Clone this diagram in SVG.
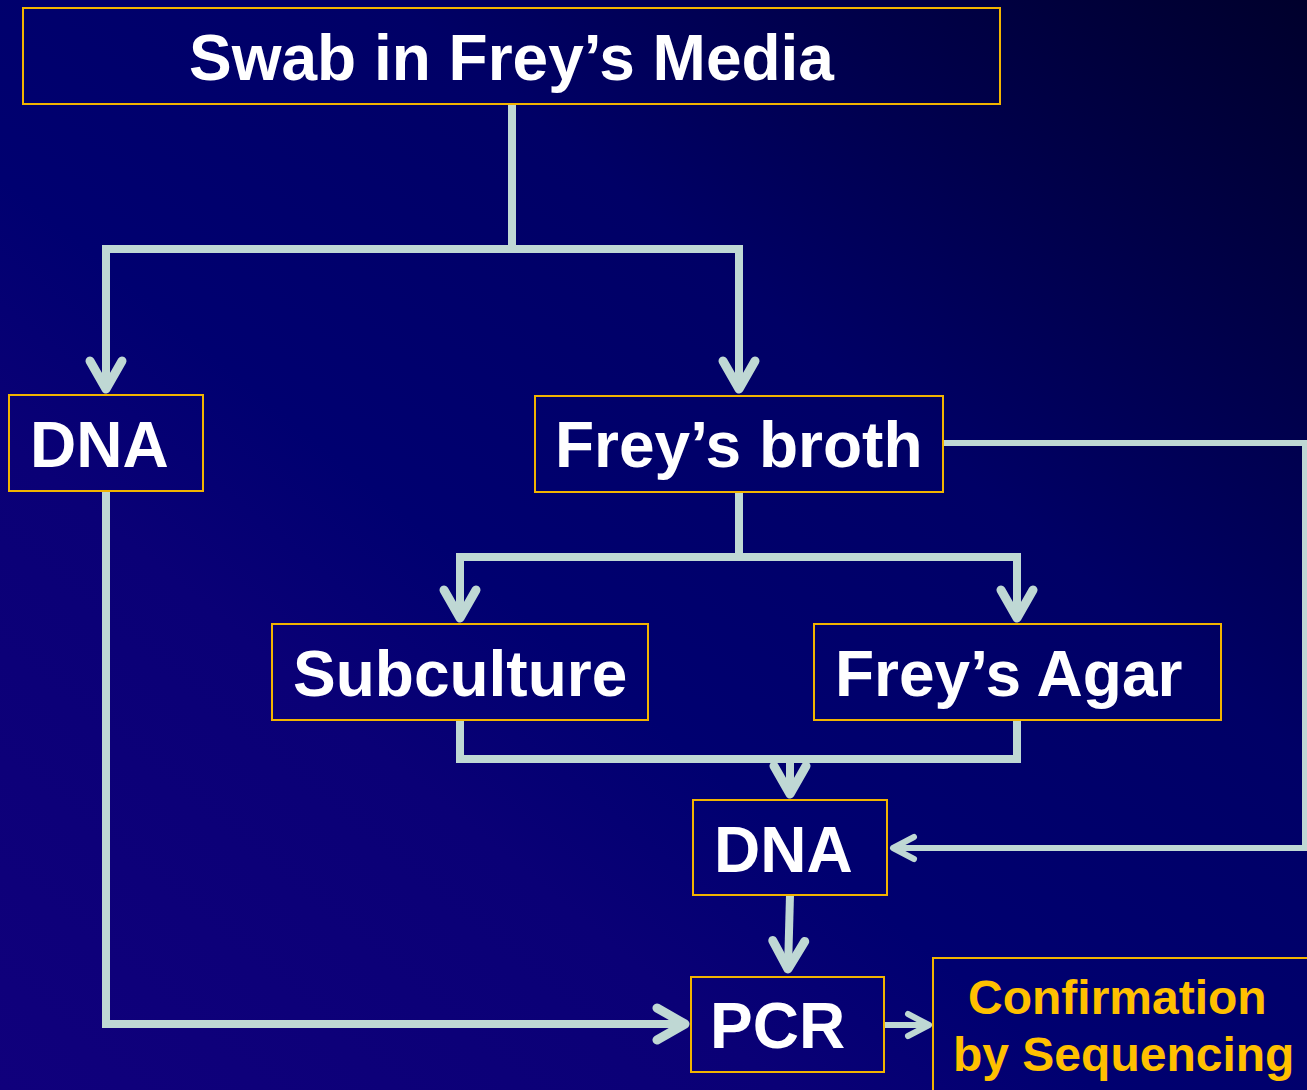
<svg xmlns="http://www.w3.org/2000/svg" width="1307" height="1090" viewBox="0 0 1307 1090">
<defs>
<linearGradient id="bg" x1="0" y1="1" x2="1" y2="0">
<stop offset="0" stop-color="#10007c"/>
<stop offset="0.3" stop-color="#0a0076"/>
<stop offset="0.42" stop-color="#000070"/>
<stop offset="0.65" stop-color="#000066"/>
<stop offset="1" stop-color="#00002c"/>
</linearGradient>
<marker id="ah" markerUnits="userSpaceOnUse" markerWidth="44" markerHeight="44" viewBox="-38 -22 44 44" refX="0" refY="0" orient="auto" overflow="visible">
<path d="M-28,-16 L0,0 L-28,16" fill="none" stroke="#bfd8d4" stroke-width="9" stroke-linecap="round" stroke-linejoin="round"/>
</marker>
<marker id="ahs" markerUnits="userSpaceOnUse" markerWidth="36" markerHeight="36" viewBox="-30 -18 36 36" refX="0" refY="0" orient="auto" overflow="visible">
<path d="M-21,-11 L0,0 L-21,11" fill="none" stroke="#bfd8d4" stroke-width="6" stroke-linecap="round" stroke-linejoin="round"/>
</marker>
</defs>
<style>
.box{fill:none;stroke:#f2b400;stroke-width:2}
.t{font-family:"Liberation Sans",Arial,Helvetica,sans-serif;font-weight:bold;fill:#ffffff;font-size:64px}
.y{font-family:"Liberation Sans",Arial,Helvetica,sans-serif;font-weight:bold;fill:#ffc000;font-size:48px}
.c{fill:none;stroke:#bfd8d4;stroke-width:8;stroke-linecap:butt;stroke-linejoin:miter}
.cs{fill:none;stroke:#bfd8d4;stroke-width:6;stroke-linecap:butt;stroke-linejoin:miter}
</style>
<rect x="0" y="0" width="1307" height="1090" fill="url(#bg)"/>
<g id="connectors">
<path class="c" d="M512,104 V249 H106 V389" marker-end="url(#ah)"/>
<path class="c" d="M512,249 H739 V389" marker-end="url(#ah)"/>
<path class="c" d="M739,492 V557 H460 V618" marker-end="url(#ah)"/>
<path class="c" d="M739,557 H1017 V618" marker-end="url(#ah)"/>
<path class="c" d="M460,720 V759 H1017 V720"/>
<path class="c" d="M790,759 V794" marker-end="url(#ah)"/>
<path class="cs" d="M943,443 H1305 V848 H893" marker-end="url(#ahs)"/>
<path class="c" d="M790,895 L788,969" marker-end="url(#ah)"/>
<path class="c" d="M106,491 V1024 H685" marker-end="url(#ah)"/>
<path class="cs" d="M884,1025 H929" marker-end="url(#ahs)"/>
</g>
<g id="swab"><rect class="box" x="23" y="8" width="977" height="96"/><text class="t" x="189" y="80">Swab in Frey’s Media</text></g>
<g id="dna1"><rect class="box" x="9" y="395" width="194" height="96"/><text class="t" x="30" y="467">DNA</text></g>
<g id="broth"><rect class="box" x="535" y="396" width="408" height="96"/><text class="t" x="555" y="467">Frey’s broth</text></g>
<g id="subculture"><rect class="box" x="272" y="624" width="376" height="96"/><text class="t" x="293" y="696">Subculture</text></g>
<g id="agar"><rect class="box" x="814" y="624" width="407" height="96"/><text class="t" x="835" y="696">Frey’s Agar</text></g>
<g id="dna2"><rect class="box" x="693" y="800" width="194" height="95"/><text class="t" x="714" y="872">DNA</text></g>
<g id="pcr"><rect class="box" x="691" y="977" width="193" height="95"/><text class="t" x="710" y="1048">PCR</text></g>
<g id="confirm"><rect class="box" x="933" y="958" width="380" height="140"/><text class="y" x="968" y="1014">Confirmation</text><text class="y" x="953" y="1071">by Sequencing</text></g>
</svg>
